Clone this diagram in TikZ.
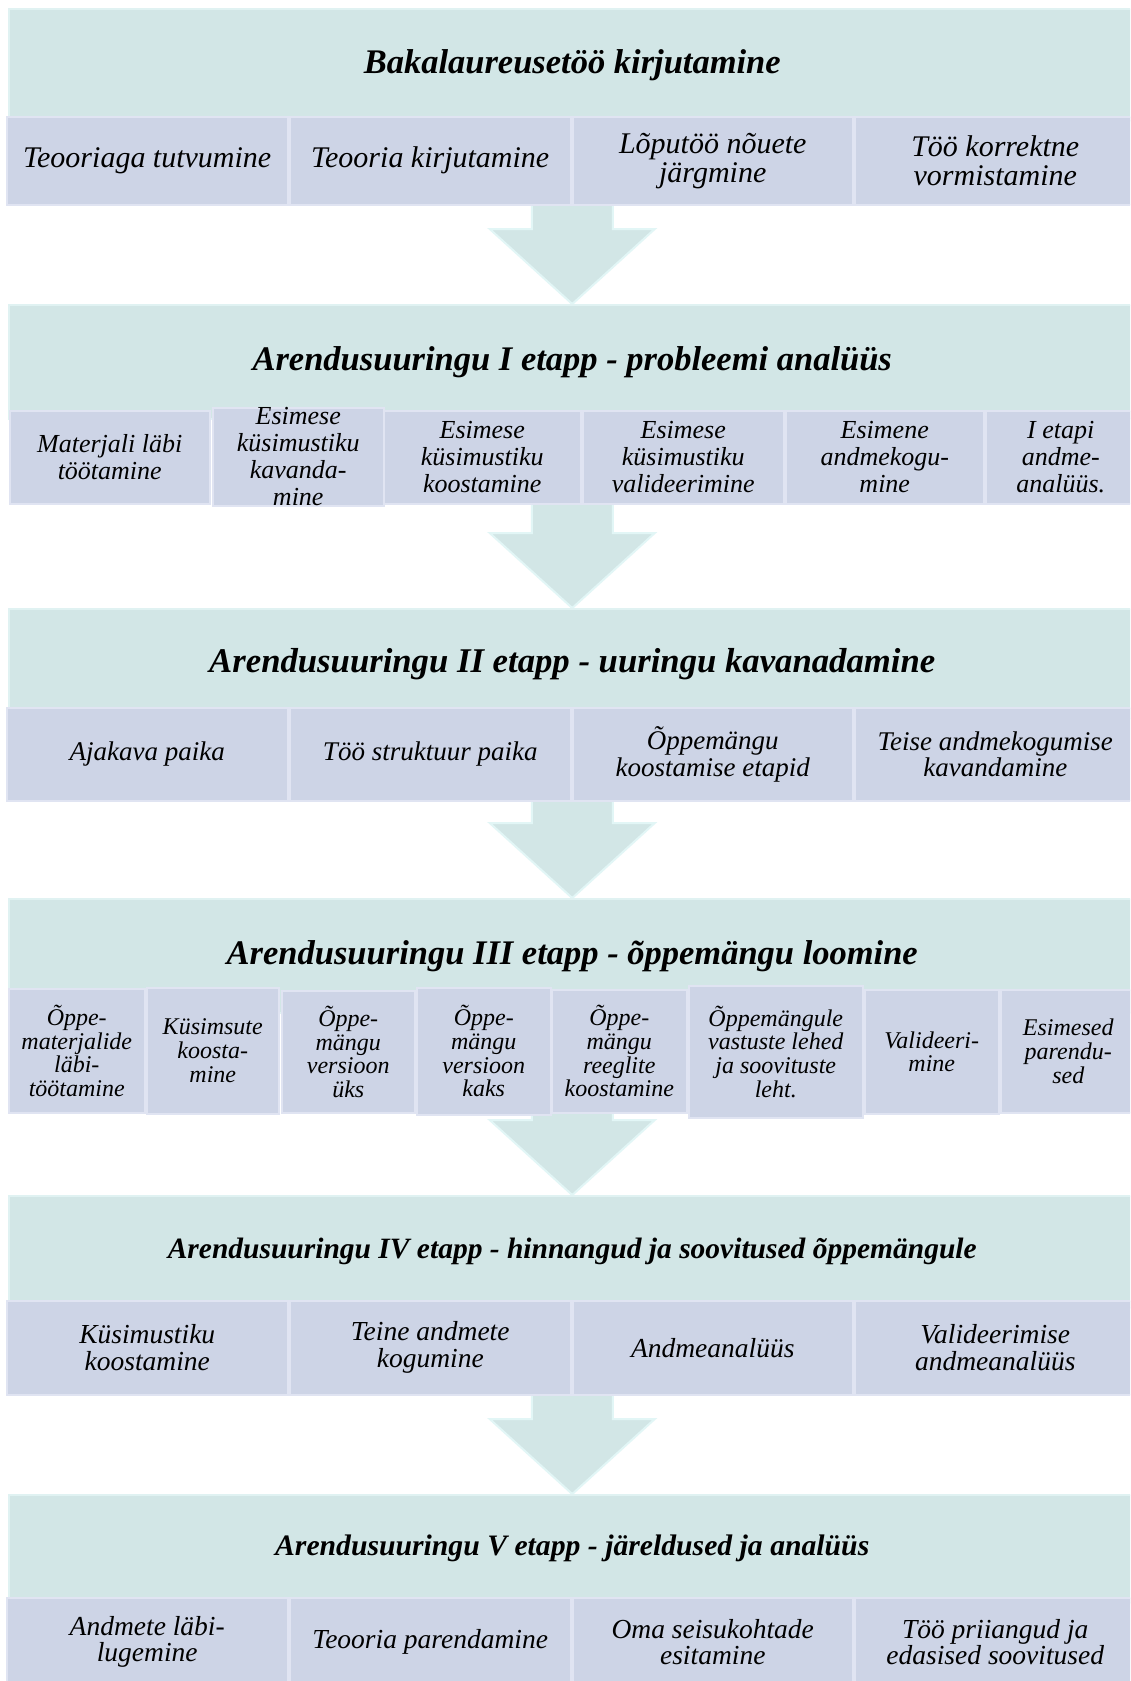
\documentclass[tikz,border=0pt]{standalone}
\usepackage{fontspec}
\setmainfont{Liberation Serif}
\usepackage{tikz}
\usetikzlibrary{calc,backgrounds}
\definecolor{headteal}{RGB}{210,230,230}
\definecolor{headedge}{RGB}{224,242,242}
\definecolor{subfill}{RGB}{205,212,230}
\definecolor{subedge}{RGB}{224,228,242}
\definecolor{arredge}{RGB}{226,246,246}
\newcommand{\stagearrow}[2]{%
  \path[arr] let \p1=(#1.south), \p2=(#2.north) in
    (\x2-40.5pt,\y1) -- (\x2+40.5pt,\y1) -- (\x2+40.5pt,\y2+75pt) -- (\x2+82.5pt,\y2+75pt)
    -- (\x2,\y2) -- (\x2-82.5pt,\y2+75pt) -- (\x2-40.5pt,\y2+75pt) -- cycle;}

\begin{document}
\begin{tikzpicture}[
  x=1pt, y=-1pt,
  head/.style={draw=headedge, line width=1.5pt, fill=headteal, anchor=north west, minimum width=1127pt, inner sep=0pt, font=\fontsize{34.5}{38}\selectfont\bfseries\itshape},
  sub/.style={draw=subedge, line width=1.5pt, fill=subfill, anchor=north west, align=center, inner sep=2pt},
  rowa/.style={sub, font=\fontsize{30}{29}\selectfont\itshape},
  rowb/.style={sub, font=\fontsize{26}{27}\selectfont\itshape},
  rowc/.style={sub, font=\fontsize{27}{26.5}\selectfont\itshape},
  rowd/.style={sub, font=\fontsize{24}{23.6}\selectfont\itshape},
  rowe/.style={sub, font=\fontsize{27.5}{27}\selectfont\itshape},
  arr/.style={fill=headteal, draw=arredge, line width=2pt, line join=miter}
]
\useasboundingbox (0,0) rectangle (1130,1681);
\clip (0,0) rectangle (1130,1681);
% headers
\node[head, minimum height=112pt] (h1) at (8,8) {Bakalaureusetöö kirjutamine};
\node[head, minimum height=114pt] (h2) at (8,304) {Arendusuuringu I etapp - probleemi analüüs};
\node[head, minimum height=110pt, font=\fontsize{34.7}{38}\selectfont\bfseries\itshape] (h3) at (8,608) {Arendusuuringu II etapp - uuringu kavanadamine};
\node[head, minimum height=114pt] (h4) at (8,898) {Arendusuuringu III etapp - õppemängu loomine};
\node[head, minimum height=112pt, font=\fontsize{29.5}{32}\selectfont\bfseries\itshape] (h5) at (8,1195) {Arendusuuringu IV etapp - hinnangud ja soovitused õppemängule};
\node[head, minimum height=108pt, font=\fontsize{29.7}{32}\selectfont\bfseries\itshape] (h6) at (8,1494) {Arendusuuringu V etapp - järeldused ja analüüs};
% row 1
\node[rowa, minimum width=281pt, minimum height=88pt] (t1) at (6,116) {Teooriaga tutvumine};
\node[rowa, minimum width=281pt, minimum height=88pt] (t2) at (289,116) {Teooria kirjutamine};
\node[rowa, minimum width=280pt, minimum height=88pt] (t3) at (572,116) {Lõputöö nõuete\\järgmine};
\node[rowa, minimum width=281pt, minimum height=88pt] (t4) at (854,116) {Töö korrektne\\vormistamine};
% row 2
\node[rowb, minimum width=200pt, minimum height=93pt] (p1) at (9,410) {Materjali läbi\\töötamine};
\node[rowb, minimum width=171pt, minimum height=98pt] (p2) at (212,407) {};
\node[align=center, inner sep=0pt, font=\fontsize{26}{27}\selectfont\itshape] (p2t) at (p2) {Esimese\\küsimustiku\\kavanda-\\mine};
\node[rowb, minimum width=197pt, minimum height=93pt] (p3) at (383,410) {Esimese\\küsimustiku\\koostamine};
\node[rowb, minimum width=201pt, minimum height=93pt] (p4) at (582,410) {Esimese\\küsimustiku\\valideerimine};
\node[rowb, minimum width=198pt, minimum height=93pt] (p5) at (785,410) {Esimene\\andmekogu-\\mine};
\node[rowb, minimum width=150pt, minimum height=93pt] (p6) at (985,410) {I etapi\\andme-\\analüüs.};
% row 3
\node[rowc, minimum width=281pt, minimum height=93pt] (r1) at (6,707) {Ajakava paika};
\node[rowc, minimum width=281pt, minimum height=93pt] (r2) at (289,707) {Töö struktuur paika};
\node[rowc, minimum width=280pt, minimum height=93pt] (r3) at (572,707) {Õppemängu\\koostamise etapid};
\node[rowc, minimum width=281pt, minimum height=93pt] (r4) at (854,707) {Teise andmekogumise\\kavandamine};
% row 4
\node[rowd, minimum width=136pt, minimum height=124pt] (k1) at (8,988) {Õppe-\\materjalide\\läbi-\\töötamine};
\node[rowd, minimum width=132pt, minimum height=126pt] (k2) at (146,987) {Küsimsute\\koosta-\\mine};
\node[rowd, minimum width=133pt, minimum height=122pt] (k3) at (281,990) {Õppe-\\mängu\\versioon\\üks};
\node[rowd, minimum width=134pt, minimum height=127pt] (k4) at (416,987) {Õppe-\\mängu\\versioon\\kaks};
\node[rowd, minimum width=135pt, minimum height=123pt] (k5) at (551,989) {Õppe-\\mängu\\reeglite\\koostamine};
\node[rowd, minimum width=174pt, minimum height=132pt] (k6) at (688,985) {Õppemängule\\vastuste lehed\\ja soovituste\\leht.};
\node[rowd, minimum width=134pt, minimum height=124pt] (k7) at (864,989) {Valideeri-\\mine};
\node[rowd, minimum width=135pt, minimum height=123pt] (k8) at (1000,989) {Esimesed\\parendu-\\sed};
% row 5
\node[rowe, minimum width=281pt, minimum height=94pt] (v1) at (6,1300) {Küsimustiku\\koostamine};
\node[rowe, minimum width=281pt, minimum height=94pt] (v2) at (289,1300) {Teine andmete\\kogumine};
\node[rowe, minimum width=280pt, minimum height=94pt] (v3) at (572,1300) {Andmeanalüüs};
\node[rowe, minimum width=281pt, minimum height=94pt] (v4) at (854,1300) {Valideerimise\\andmeanalüüs};
% row 6
\node[rowe, minimum width=281pt, minimum height=88pt, font=\fontsize{27.5}{26}\selectfont\itshape] (w1) at (6,1597) {Andmete läbi-\\lugemine};
\node[rowe, minimum width=281pt, minimum height=88pt, font=\fontsize{27.5}{26}\selectfont\itshape] (w2) at (289,1597) {Teooria parendamine};
\node[rowe, minimum width=280pt, minimum height=88pt, font=\fontsize{27.5}{26}\selectfont\itshape] (w3) at (572,1597) {Oma seisukohtade\\esitamine};
\node[rowe, minimum width=281pt, minimum height=88pt, font=\fontsize{27.5}{26}\selectfont\itshape] (w4) at (854,1597) {Töö priiangud ja\\edasised soovitused};
% arrows
\begin{scope}[on background layer]
\fill[white] (0,0) rectangle (1130,1681);
\stagearrow{h1}{h2}
\stagearrow{h2}{h3}
\stagearrow{h3}{h4}
\stagearrow{h4}{h5}
\stagearrow{h5}{h6}
\end{scope}
\end{tikzpicture}
\end{document}
